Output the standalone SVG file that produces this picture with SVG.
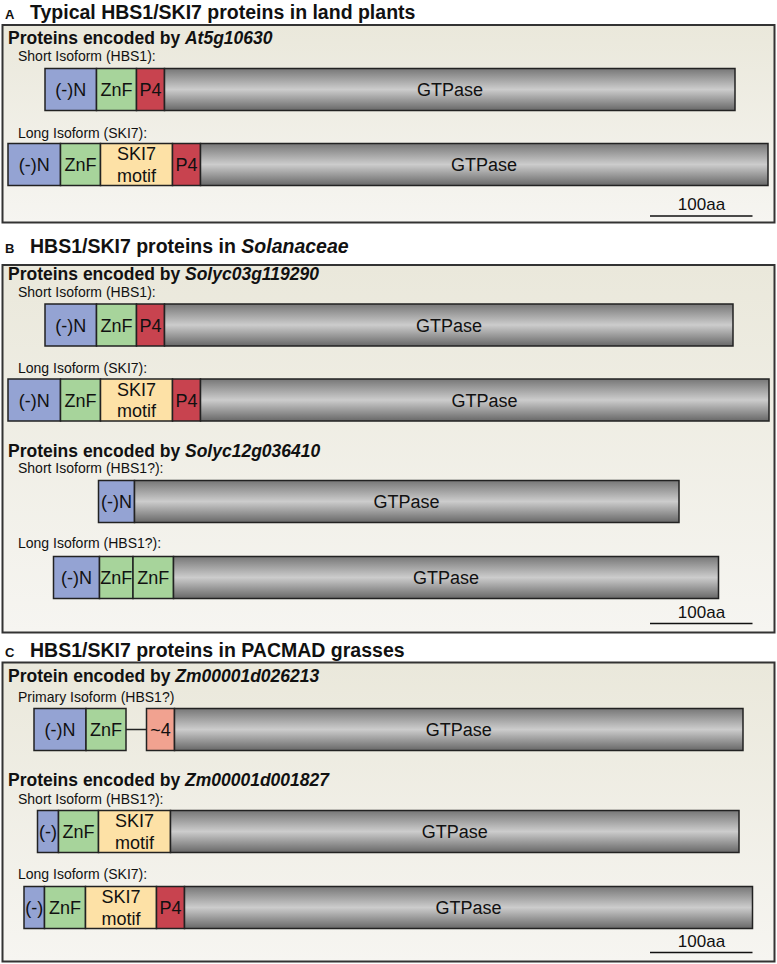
<svg xmlns="http://www.w3.org/2000/svg" width="777" height="964" viewBox="0 0 777 964">
<style>
text{font-family:"Liberation Sans",Arial,sans-serif;fill:#111}
.plet{font-size:13px;font-weight:bold}
.ptitle{font-size:19.5px;font-weight:bold}
.hdr{font-size:17.5px;font-weight:bold}
.iso{font-size:14px}
.seg{font-size:18px;text-anchor:middle}
.sc{font-size:17px;text-anchor:middle}
.panel{fill:url(#bg);stroke:#333;stroke-width:2}
.d{stroke:#222;stroke-width:1.5}
.n{fill:#94a3d3}
.z{fill:#a7d49b}
.s{fill:#fde1a6}
.p{fill:#c8434f}
.t{fill:#f1a290}
.g{fill:url(#gtp)}
.scale{stroke:#111;stroke-width:1.5}
.conn{stroke:#222;stroke-width:1.5;fill:none}
</style>
<defs>
<linearGradient id="bg" x1="0" y1="0" x2="0" y2="1">
<stop offset="0" stop-color="#eae8db"/>
<stop offset="1" stop-color="#f6f5f1"/>
</linearGradient>
<linearGradient id="gtp" x1="0" y1="0" x2="0" y2="1">
<stop offset="0" stop-color="#777777"/>
<stop offset="0.5" stop-color="#cccccc"/>
<stop offset="1" stop-color="#686868"/>
</linearGradient>
</defs>

<!-- Panel A -->
<g id="panelA">
<text class="plet" x="5" y="19">A</text>
<text class="ptitle" x="30" y="19">Typical HBS1/SKI7 proteins in land plants</text>
<rect class="panel" x="2.5" y="25" width="772" height="197.5"/>
<text class="hdr" x="8" y="44">Proteins encoded by <tspan font-style="italic">At5g10630</tspan></text>
<text class="iso" x="18" y="61">Short Isoform (HBS1):</text>
<text class="iso" x="18" y="137.5">Long Isoform (SKI7):</text>
<line class="scale" x1="650" y1="216" x2="752.5" y2="216"/>
<text class="sc" x="701.5" y="210">100aa</text>
</g>
<g id="A_short">
<rect class="d n" x="45" y="68.5" width="51.5" height="42"/>
<rect class="d z" x="96.5" y="68.5" width="40" height="42"/>
<rect class="d p" x="136.5" y="68.5" width="28" height="42"/>
<rect class="d g" x="164.5" y="68.5" width="570.5" height="42"/>
<text class="seg" x="70.8" y="96">(-)N</text>
<text class="seg" x="116.5" y="96">ZnF</text>
<text class="seg" x="150.5" y="96">P4</text>
<text class="seg" x="450" y="96">GTPase</text>
</g>
<g id="A_long">
<rect class="d n" x="8" y="143.5" width="52.5" height="42"/>
<rect class="d z" x="60.5" y="143.5" width="40" height="42"/>
<rect class="d s" x="100.5" y="143.5" width="72" height="42"/>
<rect class="d p" x="172.5" y="143.5" width="28" height="42"/>
<rect class="d g" x="200.5" y="143.5" width="567.5" height="42"/>
<text class="seg" x="34.3" y="171">(-)N</text>
<text class="seg" x="80.5" y="171">ZnF</text>
<text class="seg" x="136.5" y="160">SKI7</text>
<text class="seg" x="136.5" y="181.5">motif</text>
<text class="seg" x="186.5" y="171">P4</text>
<text class="seg" x="484" y="171">GTPase</text>
</g>

<!-- Panel B -->
<g id="panelB">
<text class="plet" x="5" y="253">B</text>
<text class="ptitle" x="30" y="253">HBS1/SKI7 proteins in <tspan font-style="italic">Solanaceae</tspan></text>
<rect class="panel" x="2.5" y="265" width="772" height="367.5"/>
<text class="hdr" x="8" y="279.5">Proteins encoded by <tspan font-style="italic">Solyc03g119290</tspan></text>
<text class="iso" x="18" y="296.5">Short Isoform (HBS1):</text>
<text class="iso" x="18" y="372.5">Long Isoform (SKI7):</text>
<text class="hdr" x="8" y="456.5">Proteins encoded by <tspan font-style="italic">Solyc12g036410</tspan></text>
<text class="iso" x="18" y="472.5">Short Isoform (HBS1?):</text>
<text class="iso" x="18" y="547.5">Long Isoform (HBS1?):</text>
<line class="scale" x1="650" y1="623.5" x2="752.5" y2="623.5"/>
<text class="sc" x="701.5" y="618">100aa</text>
</g>
<g id="B_short1">
<rect class="d n" x="45" y="304" width="51.5" height="42"/>
<rect class="d z" x="96.5" y="304" width="40" height="42"/>
<rect class="d p" x="136.5" y="304" width="28" height="42"/>
<rect class="d g" x="164.5" y="304" width="568.5" height="42"/>
<text class="seg" x="70.8" y="331.5">(-)N</text>
<text class="seg" x="116.5" y="331.5">ZnF</text>
<text class="seg" x="150.5" y="331.5">P4</text>
<text class="seg" x="449" y="331.5">GTPase</text>
</g>
<g id="B_long1">
<rect class="d n" x="8" y="379" width="52.5" height="42"/>
<rect class="d z" x="60.5" y="379" width="40" height="42"/>
<rect class="d s" x="100.5" y="379" width="72" height="42"/>
<rect class="d p" x="172.5" y="379" width="28" height="42"/>
<rect class="d g" x="200.5" y="379" width="568.5" height="42"/>
<text class="seg" x="34.3" y="406.5">(-)N</text>
<text class="seg" x="80.5" y="406.5">ZnF</text>
<text class="seg" x="136.5" y="395.5">SKI7</text>
<text class="seg" x="136.5" y="417">motif</text>
<text class="seg" x="186.5" y="406.5">P4</text>
<text class="seg" x="484.5" y="406.5">GTPase</text>
</g>
<g id="B_short2">
<rect class="d n" x="98.5" y="480.5" width="36" height="42"/>
<rect class="d g" x="134.5" y="480.5" width="544.5" height="42"/>
<text class="seg" x="116.5" y="508">(-)N</text>
<text class="seg" x="406.5" y="508">GTPase</text>
</g>
<g id="B_long2">
<rect class="d n" x="53.5" y="556.5" width="46" height="42"/>
<rect class="d z" x="99.5" y="556.5" width="33.5" height="42"/>
<rect class="d z" x="133" y="556.5" width="40.5" height="42"/>
<rect class="d g" x="173.5" y="556.5" width="545" height="42"/>
<text class="seg" x="76.5" y="584">(-)N</text>
<text class="seg" x="116.3" y="584">ZnF</text>
<text class="seg" x="153.3" y="584">ZnF</text>
<text class="seg" x="446" y="584">GTPase</text>
</g>

<!-- Panel C -->
<g id="panelC">
<text class="plet" x="5" y="656.5">C</text>
<text class="ptitle" x="30" y="656.5">HBS1/SKI7 proteins in PACMAD grasses</text>
<rect class="panel" x="2.5" y="662.5" width="772" height="299"/>
<text class="hdr" x="8" y="681.5">Protein encoded by <tspan font-style="italic">Zm00001d026213</tspan></text>
<text class="iso" x="18" y="701.5">Primary Isoform (HBS1?)</text>
<text class="hdr" x="8" y="785.5">Proteins encoded by <tspan font-style="italic">Zm00001d001827</tspan></text>
<text class="iso" x="18" y="804">Short Isoform (HBS1?):</text>
<text class="iso" x="18" y="879">Long Isoform (SKI7):</text>
<line class="scale" x1="650" y1="952.5" x2="752.5" y2="952.5"/>
<text class="sc" x="701.5" y="946.5">100aa</text>
</g>
<g id="connectors">
<line class="conn" x1="126" y1="729.5" x2="146.5" y2="729.5"/>
</g>
<g id="C_primary">
<rect class="d n" x="34" y="708.5" width="52" height="42"/>
<rect class="d z" x="86" y="708.5" width="40" height="42"/>
<rect class="d t" x="146.5" y="708.5" width="28" height="42"/>
<rect class="d g" x="174.5" y="708.5" width="568.5" height="42"/>
<text class="seg" x="60" y="736">(-)N</text>
<text class="seg" x="106" y="736">ZnF</text>
<text class="seg" x="160.5" y="736">~4</text>
<text class="seg" x="458.8" y="736">GTPase</text>
</g>
<g id="C_short">
<rect class="d n" x="37.5" y="810.5" width="21" height="42"/>
<rect class="d z" x="58.5" y="810.5" width="40" height="42"/>
<rect class="d s" x="98.5" y="810.5" width="72" height="42"/>
<rect class="d g" x="170.5" y="810.5" width="568.5" height="42"/>
<text class="seg" x="48" y="838">(-)</text>
<text class="seg" x="78.5" y="838">ZnF</text>
<text class="seg" x="134.5" y="827">SKI7</text>
<text class="seg" x="134.5" y="848.5">motif</text>
<text class="seg" x="454.8" y="838">GTPase</text>
</g>
<g id="C_long">
<rect class="d n" x="24" y="886.5" width="20.5" height="42"/>
<rect class="d z" x="44.5" y="886.5" width="41" height="42"/>
<rect class="d s" x="85.5" y="886.5" width="71" height="42"/>
<rect class="d p" x="156.5" y="886.5" width="28" height="42"/>
<rect class="d g" x="184.5" y="886.5" width="568" height="42"/>
<text class="seg" x="34.3" y="914">(-)</text>
<text class="seg" x="65" y="914">ZnF</text>
<text class="seg" x="121" y="903">SKI7</text>
<text class="seg" x="121" y="924.5">motif</text>
<text class="seg" x="170.5" y="914">P4</text>
<text class="seg" x="468.5" y="914">GTPase</text>
</g>
</svg>
